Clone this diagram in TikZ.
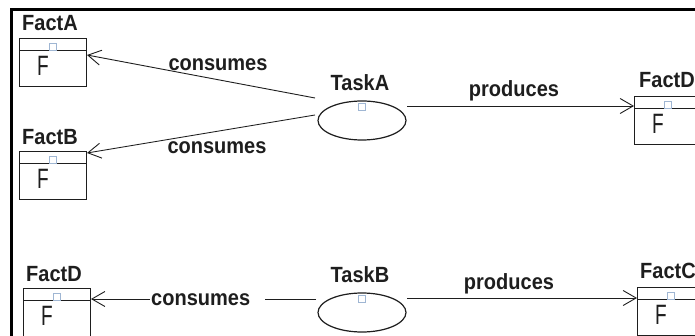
\documentclass[tikz,border=0pt]{standalone}
\usepackage{fontspec}
\setmainfont{Liberation Sans}
\usetikzlibrary{arrows.meta,shapes.geometric}
\definecolor{sqblue}{HTML}{9FB6D3}
\definecolor{ink}{HTML}{1E1E1E}
\newcommand{\tallt}[1]{\scalebox{1}[1.1]{#1}}
\newcommand{\thinF}{\scalebox{0.68}[1]{F}}
\begin{document}
\begin{tikzpicture}[x=1pt,y=-1pt,
  lbl/.style={font=\bfseries\fontsize{20}{22}\selectfont, text=ink, inner sep=0pt},
  fglyph/.style={font=\fontsize{28}{28}\selectfont, text=ink, inner sep=0pt},
  factbox/.style={draw=ink, line width=1pt, rectangle, minimum width=67pt, minimum height=48pt,
    anchor=north west, inner sep=0pt,
    path picture={\draw[ink, line width=1pt] ([yshift=-12pt]path picture bounding box.north west) -- ([yshift=-12pt]path picture bounding box.north east);}},
  taskell/.style={draw=ink, line width=1.2pt, ellipse, minimum width=88pt, minimum height=39pt, inner sep=0pt},
  sqr/.style={draw=sqblue, fill=white, line width=0.9pt, minimum size=7pt, inner sep=0pt},
  conn/.style={draw=ink, line width=0.9pt, -{Straight Barb[length=13pt,width=15pt,line width=0.9pt]}},
]
\useasboundingbox (0,0) rectangle (695,336);
\clip (0,0) rectangle (695,336);
\fill[white] (0,0) rectangle (695,336);
% frame
\draw[line width=2.5pt, black] (11.5,345) |- (705,9.7);

% fact boxes
\node[factbox] (fa) at (19,38) {};
\node[factbox] (fb) at (19,151) {};
\node[factbox] (fdl) at (23,288) {};
\node[factbox] (fdr) at (634,96) {};
\node[factbox] (fc) at (637,287) {};

\foreach \b in {fa,fb,fdl,fdr,fc}{
  \node[sqr] (\b S) at ([yshift=-8.5pt]\b.north) {};
  \node[fglyph, anchor=north west] (\b F) at ([xshift=18pt,yshift=-18pt]\b.north west) {\thinF};
}

% fact labels
\node[lbl, anchor=base west] (faL) at (22,31) {\tallt{FactA}};
\node[lbl, anchor=base west] (fbL) at (22,145) {\tallt{FactB}};
\node[lbl, anchor=base west] (fdlL) at (26,281) {\tallt{FactD}};
\node[lbl, anchor=base west] (fdrL) at (639,88) {\tallt{FactD}};
\node[lbl, anchor=base west] (fcL) at (640,279) {\tallt{FactC}};

% tasks
\node[taskell] (ta) at (362,120.5) {};
\node[taskell] (tb) at (362,312.5) {};
\node[sqr] (taS) at (362,107) {};
\node[sqr] (tbS) at (362,299) {};
\node[lbl, anchor=base] (taL) at (360,91) {\tallt{TaskA}};
\node[lbl, anchor=base] (tbL) at (360,283) {\tallt{TaskB}};

% connector endpoints
\coordinate (taOutA) at (315,98);
\coordinate (taOutB) at (315,115);
\coordinate (taOutP) at (407,106);
\coordinate (tbOutD) at (316,299);
\coordinate (tbOutP) at (407,298);

\draw[conn] (taOutA) -- ([yshift=-17pt]fa.north east);
\draw[conn] (taOutB) -- ([yshift=-2pt]fb.north east);
\draw[conn] (tbOutD) -- ([yshift=-11pt]fdl.north east);
\draw[conn] (taOutP) -- ([yshift=-10pt]fdr.north west);
\draw[conn] (tbOutP) -- ([yshift=-11pt]fc.north west);

% connector labels
\node[lbl, anchor=base] (lca) at (218,71) {\tallt{consumes}};
\node[lbl, anchor=base] (lcb) at (217,154) {\tallt{consumes}};
\node[lbl, fill=white, anchor=west, text width=113pt, align=left, inner xsep=1pt, inner ysep=3pt] (lcd) at (150,299.5) {\tallt{consumes}};
\node[lbl, anchor=base] (lpa) at (514,97) {\tallt{produces}};
\node[lbl, anchor=base] (lpb) at (509,290) {\tallt{produces}};
\end{tikzpicture}
\end{document}
